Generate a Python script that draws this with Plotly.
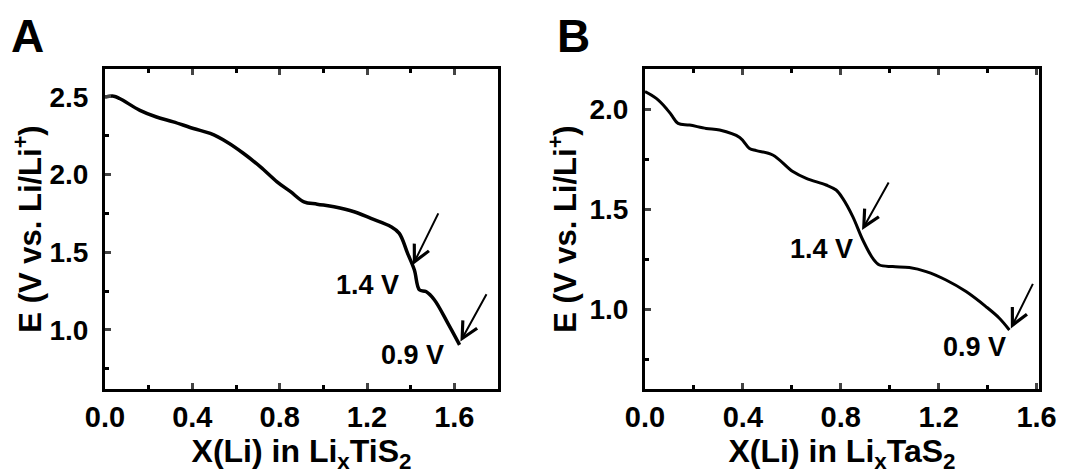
import plotly.graph_objects as go

# ---- Data: panel A (LixTiS2) ----
xA = [0.0, 0.04, 0.067, 0.16, 0.236, 0.313, 0.405, 0.482, 0.558, 0.635, 0.712, 0.788,
      0.85, 0.911, 0.972, 1.049, 1.141, 1.218, 1.31, 1.348, 1.386, 1.417, 1.44, 1.47,
      1.509, 1.57, 1.624]
yA = [2.50, 2.505, 2.49, 2.414, 2.371, 2.34, 2.297, 2.265, 2.21, 2.136, 2.05, 1.954,
      1.89, 1.825, 1.81, 1.793, 1.761, 1.718, 1.665, 1.622, 1.493, 1.386, 1.258, 1.247,
      1.193, 1.044, 0.904]

# ---- Data: panel B (LixTaS2) ----
xB = [0.0, 0.046, 0.087, 0.108, 0.135, 0.182, 0.25, 0.305, 0.387, 0.427, 0.455, 0.522,
      0.604, 0.659, 0.74, 0.781, 0.808, 0.849, 0.89, 0.931, 0.958, 1.012, 1.08, 1.149,
      1.23, 1.312, 1.393, 1.448, 1.489]
yB = [2.087, 2.053, 2.003, 1.97, 1.928, 1.92, 1.903, 1.895, 1.858, 1.803, 1.792, 1.77,
      1.687, 1.653, 1.62, 1.595, 1.553, 1.462, 1.345, 1.253, 1.22, 1.212, 1.207, 1.187,
      1.145, 1.087, 1.012, 0.954, 0.895]

# annotation labels / arrows (label text, text x, text y, arrow tail x, tail y, head x, head y)
annA = [("1.4 V", 1.20, 1.29, 1.53, 1.76, 1.41, 1.418),
        ("0.9 V", 1.41, 0.84, 1.751, 1.24, 1.628, 0.925)]
annB = [("1.4 V", 0.72, 1.30, 0.999, 1.64, 0.887, 1.395),
        ("0.9 V", 1.346, 0.81, 1.588, 1.133, 1.495, 0.903)]

xtitleA = "X(Li) in Li<sub>x</sub>TiS<sub>2</sub>"
xtitleB = "X(Li) in Li<sub>x</sub>TaS<sub>2</sub>"
ytitle = "E (V vs. Li/Li<sup>+</sup>)"

FONT = "Liberation Sans"
W, H = 1077, 474
OFF = 8  # page body offset compensation


def px_x(p):
    return (p - OFF) / W


def px_y(p):
    return 1 - (p - OFF) / H


fig = go.Figure()
fig.add_trace(go.Scatter(x=xA, y=yA, mode="lines", line=dict(color="black", width=3.5),
                         line_shape="spline", xaxis="x", yaxis="y", showlegend=False))
fig.add_trace(go.Scatter(x=xB, y=yB, mode="lines", line=dict(color="black", width=3),
                         line_shape="spline", xaxis="x2", yaxis="y2", showlegend=False))


def xax(domain, rng, anchor, title):
    return dict(domain=domain, range=rng, anchor=anchor, dtick=0.4, tick0=0, automargin=False,
                tickformat=".1f", ticks="inside", ticklen=6, tickwidth=3,
                showline=True, linewidth=3, linecolor="black", mirror="ticks",
                showgrid=False, zeroline=False, ticklabelstandoff=0,
                tickfont=dict(family=FONT, size=29, color="black", weight="bold"),
                minor=dict(dtick=0.2, tick0=0, ticks="inside", ticklen=4, tickwidth=2.5,
                           tickcolor="black", showgrid=False),
                title=dict(text=title, standoff=0,
                           font=dict(family=FONT, size=32, color="black", weight="bold")))


def yax(domain, rng, anchor):
    return dict(domain=domain, range=rng, anchor=anchor, dtick=0.5, tick0=0, automargin=False,
                tickformat=".1f", ticks="inside", ticklen=6, tickwidth=3,
                showline=True, linewidth=3, linecolor="black", mirror=True,
                showgrid=False, zeroline=False, ticklabelstandoff=8,
                tickfont=dict(family=FONT, size=28, color="black", weight="bold"),
                minor=dict(dtick=0.25, tick0=0, ticks="inside", ticklen=4, tickwidth=2.5,
                           tickcolor="black", showgrid=False),
                title=dict(text=ytitle, standoff=4,
                           font=dict(family=FONT, size=31, color="black", weight="bold")))


ydom = [px_y(389), px_y(69)]
fig.update_layout(
    width=W, height=H,
    margin=dict(l=0, r=0, t=0, b=0, autoexpand=False),
    paper_bgcolor="white", plot_bgcolor="white",
    xaxis=xax([px_x(105), px_x(498)], [0, 1.8], "y", xtitleA),
    yaxis=yax(ydom, [0.62, 2.68], "x"),
    xaxis2=xax([px_x(645), px_x(1039)], [0, 1.61], "y2", xtitleB),
    yaxis2=yax(ydom, [0.6, 2.2], "x2"),
)

anns = []
for (axx, axy), lst in ((("x", "y"), annA), (("x2", "y2"), annB)):
    for txt, tx, ty, x0, y0, x1, y1 in lst:
        anns.append(dict(x=tx, y=ty, xref=axx, yref=axy, text=txt, showarrow=False,
                         font=dict(family=FONT, size=27, color="black", weight="bold")))
        anns.append(dict(x=x1, y=y1, xref=axx, yref=axy, ax=x0, ay=y0, axref=axx, ayref=axy,
                         text="", showarrow=True, arrowhead=5, arrowsize=1.6,
                         arrowwidth=2, arrowcolor="black"))
for lbl, cx in (("A", 27), ("B", 573)):
    anns.append(dict(x=px_x(cx), y=px_y(36), xref="paper", yref="paper", text=lbl,
                     xanchor="center", yanchor="middle", showarrow=False,
                     font=dict(family=FONT, size=46, color="black", weight="bold")))
fig.update_layout(annotations=anns)

fig.write_html("out.html")
